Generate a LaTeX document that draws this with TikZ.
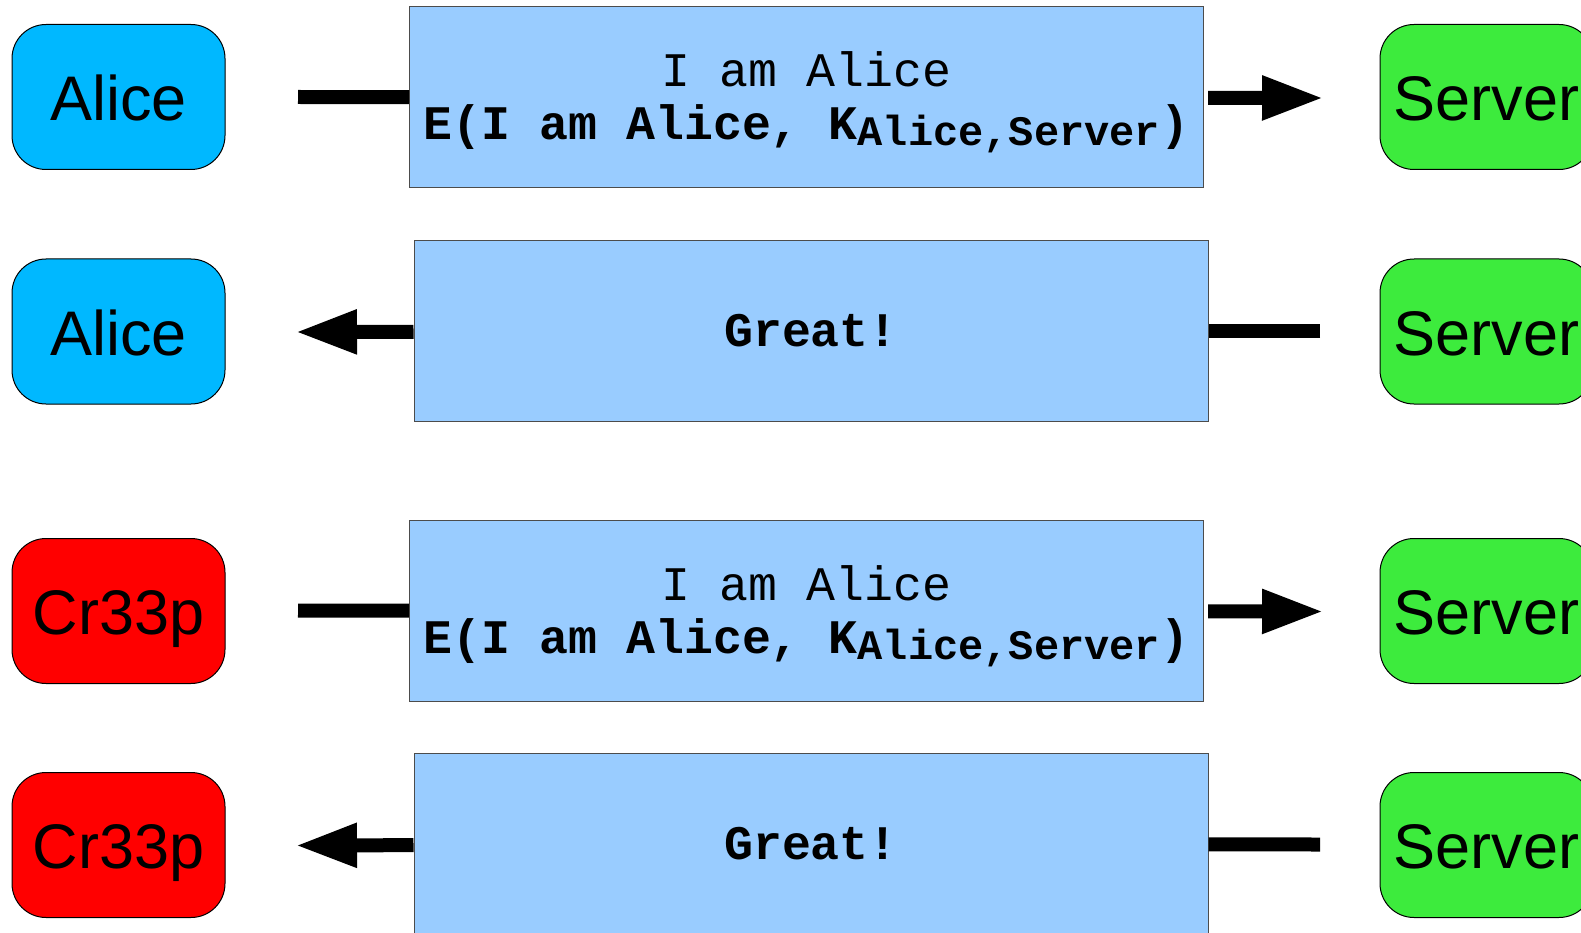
\documentclass[tikz,border=0pt]{standalone}
\usepackage{fontspec}
\setmainfont{Liberation Sans}
\newfontfamily\msgfont[WordSpace={1,0,0},PunctuationSpace=WordSpace]{Liberation Mono}
\usetikzlibrary{arrows.meta}
\definecolor{alicec}{RGB}{0,184,255}
\definecolor{serverc}{RGB}{61,235,61}
\definecolor{crc}{RGB}{255,0,0}
\definecolor{msgc}{RGB}{153,204,255}
\newcommand{\encmsg}{\rule{0pt}{45pt}I am Alice\\\textbf{E(I am Alice, K\raisebox{-6pt}{\fontsize{42}{42}\selectfont Alice,Server})}}
\begin{document}
\begin{tikzpicture}[x=1pt,y=-1pt,
  party/.style={draw=black, line width=1pt, rounded corners=34pt, minimum width=213pt, minimum height=145pt, inner sep=0pt, text height=47pt, text depth=0pt, font=\fontsize{63}{63}\selectfont},
  msg/.style={draw=black!70, line width=1pt, fill=msgc, minimum width=794pt, minimum height=181pt, inner sep=0pt, align=center, font=\msgfont\frenchspacing\fontsize{48.2}{53}\selectfont},
  wire/.style={line width=14pt},
  arrowline/.style={line width=14pt, -{Triangle[length=62pt,width=41pt]}},
  gapstart/.style={shorten <=4pt}]
\useasboundingbox (0,0) rectangle (1581,933);
% row 1
\node[party, fill=alicec] (a1) at (118.5,97) {Alice};
\node[msg] (m1) at (806.5,97.5) {\encmsg};
\node[party, fill=serverc] (s1) at (1486.5,97) {Server};
\coordinate (a1r) at (298,97);
\coordinate (s1l) at (1324,98);
\draw[wire] (a1r) -- (m1);
\draw[arrowline, gapstart] (m1) -- (s1l);
% row 2
\node[party, fill=alicec] (a2) at (118.5,331.5) {Alice};
\node[msg] (m2) at (811,331) {\textbf{Great!}};
\node[party, fill=serverc] (s2) at (1486.5,331.5) {Server};
\coordinate (a2r) at (295,332);
\coordinate (s2l) at (1320,331);
\draw[arrowline] (m2) -- (a2r);
\draw[wire] (s2l) -- (m2);
% row 3
\node[party, fill=crc] (c3) at (118.5,611) {Cr33p};
\node[msg] (m3) at (806.5,611) {\encmsg};
\node[party, fill=serverc] (s3) at (1486.5,611) {Server};
\coordinate (c3r) at (298,610.5);
\coordinate (s3l) at (1324,611.5);
\draw[wire] (c3r) -- (m3);
\draw[arrowline, gapstart] (m3) -- (s3l);
% row 4
\node[party, fill=crc] (c4) at (118.5,845) {Cr33p};
\node[msg] (m4) at (811,844) {\textbf{Great!}};
\node[party, fill=serverc] (s4) at (1486.5,845) {Server};
\coordinate (c4r) at (295,845.5);
\coordinate (s4l) at (1320,844.5);
\draw[arrowline] (m4) -- (c4r);
\draw[wire] (s4l) -- (m4);
\end{tikzpicture}
\end{document}
